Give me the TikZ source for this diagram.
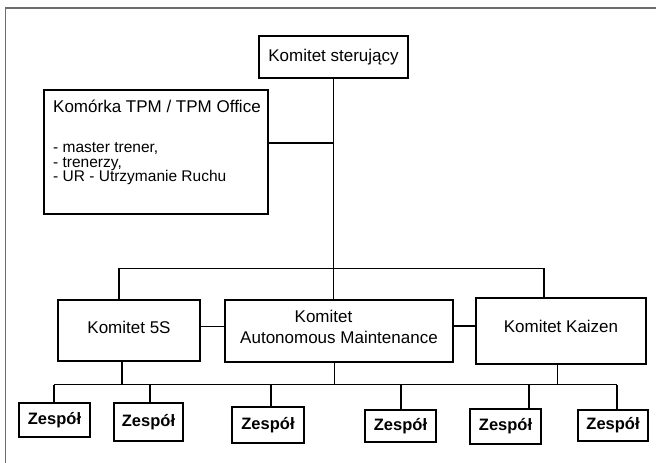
\documentclass[tikz,border=0pt]{standalone}
\usepackage{fontspec}
\setmainfont{Liberation Sans}
\begin{document}
\begin{tikzpicture}[x=1pt, y=-1pt,
        box/.style={draw, line width=1.3pt, inner sep=0pt, align=center, font=\fontsize{17}{21}\selectfont},
        team/.style={draw, line width=1.3pt, inner sep=0pt, font=\bfseries\fontsize{16.5}{19}\selectfont},
        txt/.style={inner sep=0pt, anchor=base west},
        link/.style={line width=1.1pt}]
    \useasboundingbox (0,0) rectangle (656,463);

    % Frame
    \draw[gray!85!black, line width=1.4pt] (656,8) -| (5.7,463);

    % Steering committee and TPM office
    \node[box, minimum width=149pt, minimum height=42pt] (steer) at (333.5,57) {Komitet sterujący};
    \node[box, minimum width=224pt, minimum height=124pt] (office) at (156,152) {};
    \node[txt, font=\fontsize{17}{19}\selectfont] (officetitle) at (53,112) {Komórka TPM / TPM Office};
    \foreach \t [count=\i] in {{master trener,}, {trenerzy,}, {UR - Utrzymanie Ruchu}}
        \node[txt, font=\fontsize{15.5}{13}\selectfont] (item\i) at (53,138+14.5*\i) {- \t};

    % Committees
    \node[box, minimum width=142pt, minimum height=61pt, text depth=7pt] (k5s) at (129,330.5) {Komitet 5S};
    \node[box, minimum width=228pt, minimum height=62pt, text depth=9pt] (am) at (339,331) {Komitet\kern31pt\\Autonomous Maintenance};
    \node[box, minimum width=170pt, minimum height=66pt, text depth=9pt] (kaizen) at (561,331) {Komitet Kaizen};

    % Teams
    \foreach \n/\x/\y/\w/\h in {1/54.5/420/71/34, 2/148.5/422/69/38, 3/268/425/72/36,
                                4/400.5/426/71/32, 5/505.5/426.5/71/35, 6/613/425.5/70/31}
        \node[team, minimum width=\w pt, minimum height=\h pt] (z\n) at (\x,\y) {Zespół};

    % Upper connections
    \coordinate (topbus) at (0,268.5);
    \draw[link] (steer.south) -- (steer.south |- am.north);
    \draw[link] ([yshift=9pt]office.east) -- ([yshift=9pt]office.east -| steer.south);
    \draw[link] ([xshift=-10pt]k5s.north) -- ([xshift=-10pt]k5s.north |- topbus) -| ([xshift=-17pt]kaizen.north);
    \draw[link] ([yshift=4pt]k5s.east) -- ([yshift=4pt]k5s.east -| am.west);
    \draw[link] ([yshift=5pt]am.east) -- ([yshift=5pt]am.east -| kaizen.west);

    % Lower bus
    \coordinate (bus) at (0,384.5);
    \draw[link] ([xshift=-0.5pt]z1.north |- bus) -- ([xshift=4pt]z6.north |- bus);
    \draw[link] ([xshift=-7pt]k5s.south) -- ([xshift=-7pt]k5s.south |- bus);
    \draw[link] ([xshift=-4.5pt]am.south) -- ([xshift=-4.5pt]am.south |- bus);
    \draw[link] ([xshift=-3.5pt]kaizen.south) -- ([xshift=-3.5pt]kaizen.south |- bus);
    \foreach \n/\dx in {1/-0.5, 2/1.5, 3/3, 4/0.5, 5/23.5, 6/4}
        \draw[link] ([xshift=\dx pt]z\n.north) -- ([xshift=\dx pt]z\n.north |- bus);
\end{tikzpicture}
\end{document}
